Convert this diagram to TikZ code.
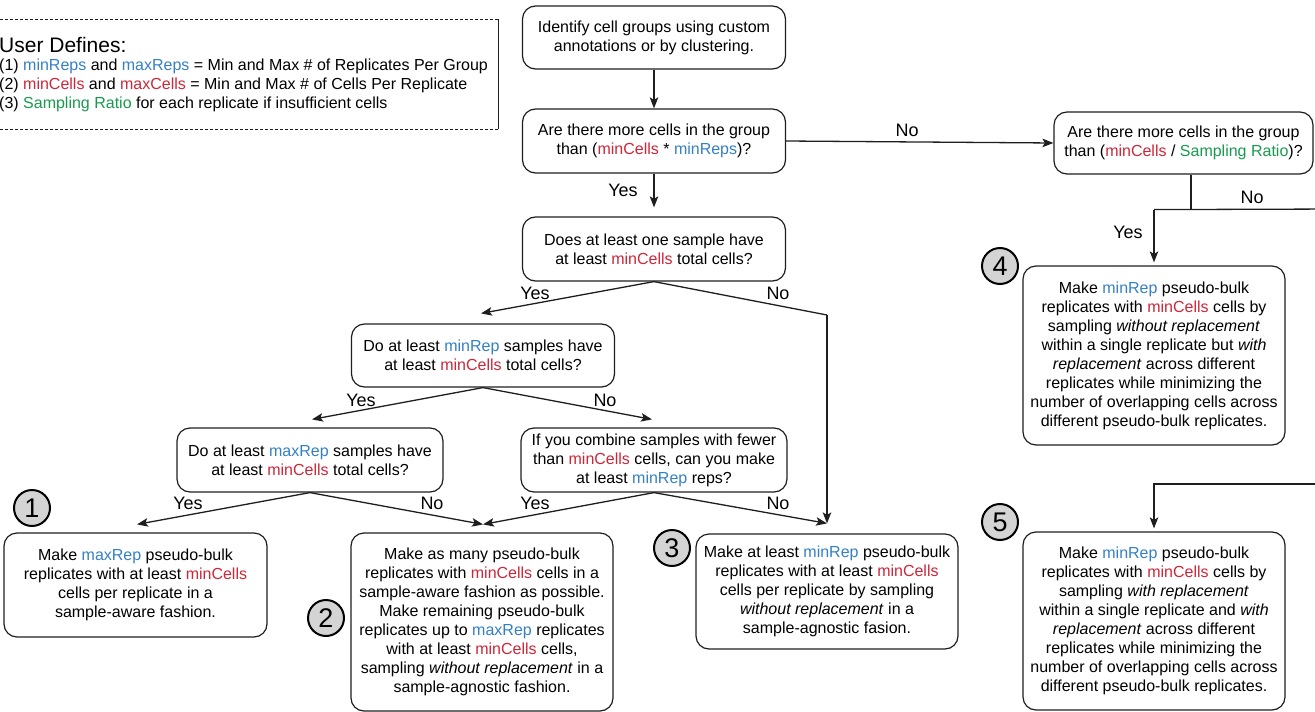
\documentclass[tikz,border=0pt]{standalone}
\usepackage{fontspec}
\setmainfont{Liberation Sans}
\usetikzlibrary{arrows.meta,calc}
\definecolor{pblue}{RGB}{52,128,196}
\definecolor{pred}{RGB}{205,38,56}
\definecolor{pgreen}{RGB}{24,154,78}
\definecolor{ink}{RGB}{30,30,30}
\definecolor{markfill}{RGB}{212,212,212}
\newcommand{\mblue}[1]{\textcolor{pblue}{#1}}
\newcommand{\mred}[1]{\textcolor{pred}{#1}}
\newcommand{\mgreen}[1]{\textcolor{pgreen}{#1}}
\begin{document}
\begin{tikzpicture}[x=1pt,y=-1pt,
  box/.style={draw=ink, line width=1.2pt, rounded corners=13pt, align=center,
    inner sep=0pt, font=\fontsize{16}{19}\selectfont, text=black},
  arr/.style={draw=ink, line width=1.3pt, -{Stealth[length=11pt,width=8.5pt,inset=2.5pt]}},
  link/.style={draw=ink, line width=1.3pt},
  lbl/.style={font=\fontsize{18}{20}\selectfont, inner sep=0pt},
  numc/.style={circle, draw=black, line width=2pt, fill=markfill,
    minimum size=36pt, inner sep=0pt, font=\fontsize{27}{27}\selectfont},
  legline/.style={anchor=base west, inner sep=0pt, font=\fontsize{16}{19}\selectfont},
]
\useasboundingbox (0,0) rectangle (1315,712);
\clip (0,0) rectangle (1315,712);

% legend
\draw[ink, line width=1pt, dash pattern=on 3pt off 2pt] (-5,19) -- (498,19);
\draw[ink, line width=1pt] (498,19) -- (498,129);
\draw[ink, line width=1pt, dash pattern=on 3pt off 2pt] (498,129) -- (-5,129);
\node[anchor=base west, inner sep=0pt, font=\fontsize{21}{24}\selectfont] (ud) at (-1,52) {User Defines:};
\node[legline] (ud1) at (-1,70.5) {(1) \mblue{minReps} and \mblue{maxReps} = Min and Max \# of Replicates Per Group};
\node[legline] (ud2) at (-1,89) {(2) \mred{minCells} and \mred{maxCells} = Min and Max \# of Cells Per Replicate};
\node[legline] (ud3) at (-1,108) {(3) \mgreen{Sampling Ratio} for each replicate if insufficient cells};

% decision boxes
\node[box, minimum width=263pt, minimum height=63pt] (A) at (654,37.5)
  {Identify cell groups using custom\\annotations or by clustering.};
\node[box, minimum width=263pt, minimum height=64pt] (B) at (654,141)
  {Are there more cells in the group\\than (\mred{minCells} * \mblue{minReps})?};
\node[box, minimum width=263pt, minimum height=64pt] (C) at (654,249)
  {Does at least one sample have\\at least \mred{minCells} total cells?};
\node[box, minimum width=259pt, minimum height=62pt] (D) at (1183.5,143)
  {Are there more cells in the group\\than (\mred{minCells} / \mgreen{Sampling Ratio})?};
\node[box, minimum width=263pt, minimum height=63pt] (G) at (483,355.5)
  {Do at least \mblue{minRep} samples have\\at least \mred{minCells} total cells?};
\node[box, minimum width=266pt, minimum height=64pt] (H) at (310,460)
  {Do at least \mblue{maxRep} samples have\\at least \mred{minCells} total cells?};
\node[box, minimum width=266pt, minimum height=64pt] (I) at (654,460)
  {If you combine samples with fewer\\than \mred{minCells} cells, can you make\\at least \mblue{minRep} reps?};

% outcome boxes
\node[box, minimum width=263pt, minimum height=104pt] (R1) at (135.5,585)
  {Make \mblue{maxRep} pseudo-bulk\\replicates with at least \mred{minCells}\\cells per replicate in a\\sample-aware fashion.};
\node[box, minimum width=262pt, minimum height=178pt] (R2) at (482,622)
  {Make as many pseudo-bulk\\replicates with \mred{minCells} cells in a\\sample-aware fashion as possible.\\Make remaining pseudo-bulk\\replicates up to \mblue{maxRep} replicates\\with at least \mred{minCells} cells,\\sampling \textit{without replacement} in a\\sample-agnostic fashion.};
\node[box, minimum width=262pt, minimum height=115pt] (R3) at (827,591.5)
  {Make at least \mblue{minRep} pseudo-bulk\\replicates with at least \mred{minCells}\\cells per replicate by sampling\\\textit{without replacement} in a\\sample-agnostic fasion.};
\node[box, minimum width=262pt, minimum height=179pt] (R4) at (1154,355.5)
  {Make \mblue{minRep} pseudo-bulk\\replicates with \mred{minCells} cells by\\sampling \textit{without replacement}\\within a single replicate but \textit{with}\\\textit{replacement} across different\\replicates while minimizing the\\number of overlapping cells across\\different pseudo-bulk replicates.};
\node[box, minimum width=262pt, minimum height=178pt] (R5) at (1154,621)
  {Make \mblue{minRep} pseudo-bulk\\replicates with \mred{minCells} cells by\\sampling \textit{with replacement}\\within a single replicate and \textit{with}\\\textit{replacement} across different\\replicates while minimizing the\\number of overlapping cells across\\different pseudo-bulk replicates.};

% numbered markers
\node[numc] (n1) at (32,508) {1};
\node[numc] (n2) at (326,618) {2};
\node[numc] (n3) at (672,548) {3};
\node[numc] (n4) at (1000,266) {4};
\node[numc] (n5) at (1000,522) {5};

% arrow end points just above the target boxes
\coordinate (inG) at ($(G.north)+(-2,-10)$);
\coordinate (inH) at ($(H.north)+(2,-8)$);
\coordinate (inI) at ($(I.north)+(-2,-8)$);
\coordinate (in1) at ($(R1.north)+(1.5,-8)$);
\coordinate (in2) at ($(R2.north)+(1,-8)$);
\coordinate (in3) at ($(R3.north)+(0,-10)$);
\coordinate (cbend) at (827,315);
\coordinate (dj) at ($(D.south)+(7.5,35)$);
\coordinate (offTop) at (1340,209);
\coordinate (offBot) at (1340,484);

% connectors
\draw[arr] (A.south) -- (B.north);
\draw[arr, shorten >=9pt] (B.south) -- (C.north);
\draw[arr] (B.east) -- (D.west);
\draw[arr] (C.south) -- (inG);
\draw[link] (C.south) -- (cbend);
\draw[arr] (cbend) -- (in3);
\draw[arr] (G.south) -- (inH);
\draw[arr] (G.south) -- (inI);
\draw[arr] (H.south) -- (in1);
\draw[arr] (H.south) -- (in2);
\draw[arr] (I.south) -- (in2);
\draw[arr] (I.south) -- (in3);
\draw[link] ($(D.south)+(7.5,0)$) -- (dj);
\draw[arr, shorten >=3pt] (dj -| R4.north) -- (R4.north);
\draw[link] (dj -| R4.north) -- (offTop) -- (offBot);
\draw[arr, shorten >=3pt] (offBot) -- (offBot -| R5.north) -- (R5.north);

% branch labels
\node[lbl] (lY1) at (623,190) {Yes};
\node[lbl] (lN1) at (907,130) {No};
\node[lbl] (lN2) at (1252,197) {No};
\node[lbl] (lY2) at (1128,232) {Yes};
\node[lbl] (lY3) at (535,293) {Yes};
\node[lbl] (lN3) at (778,293) {No};
\node[lbl] (lY4) at (361,400) {Yes};
\node[lbl] (lN4) at (605,400) {No};
\node[lbl] (lY5) at (188,503) {Yes};
\node[lbl] (lN5) at (432,503) {No};
\node[lbl] (lY6) at (535,503) {Yes};
\node[lbl] (lN6) at (778,503) {No};
\end{tikzpicture}
\end{document}
